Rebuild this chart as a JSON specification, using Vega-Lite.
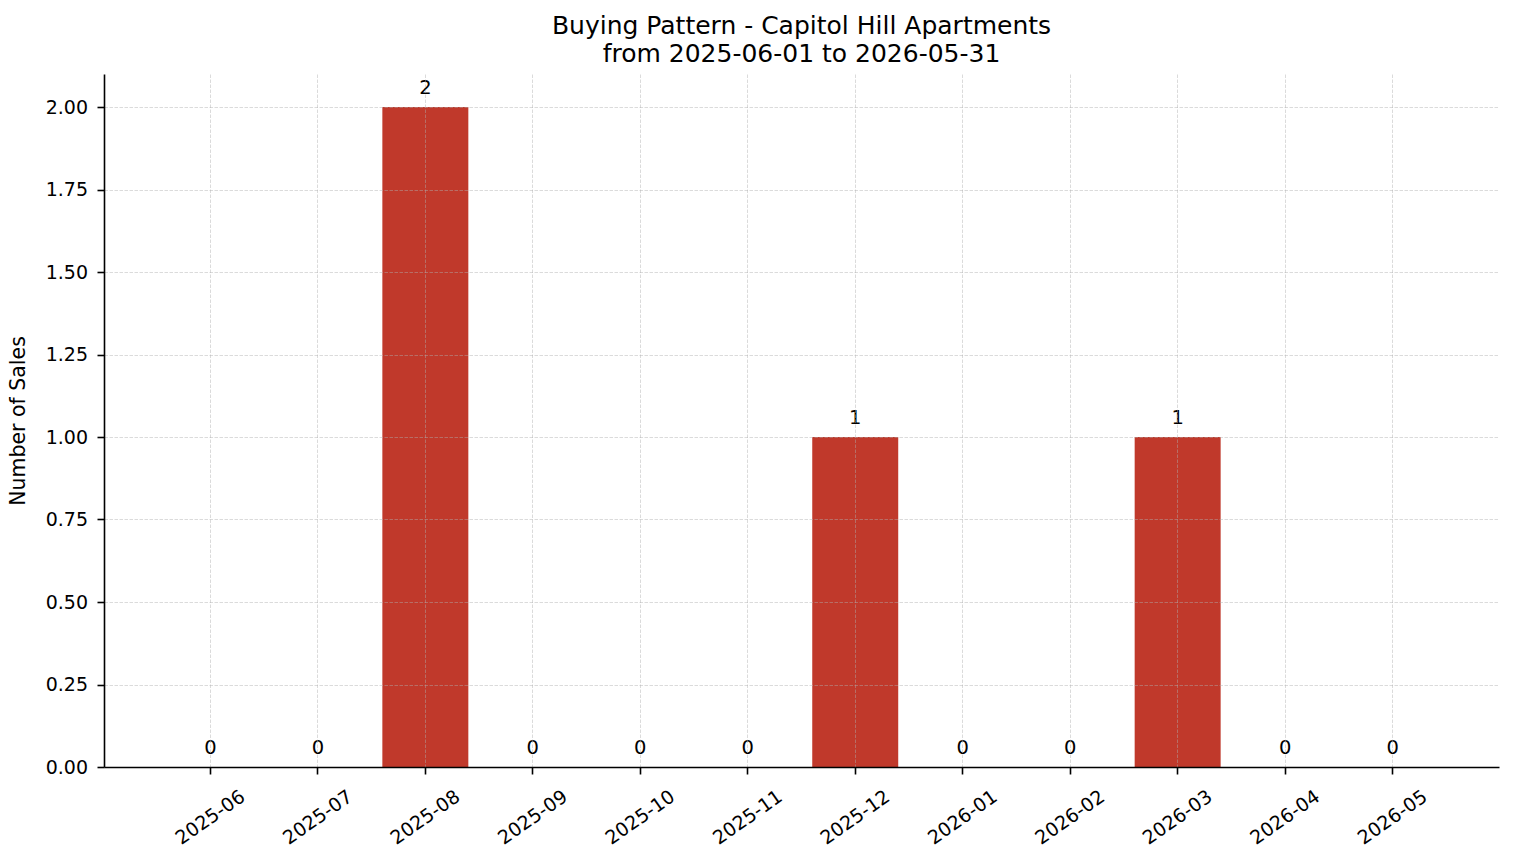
{
  "$schema": "https://vega.github.io/schema/vega-lite/v6.json",
  "width": 1395,
  "height": 693,
  "autosize": {"type": "none"},
  "padding": {"left": 104, "top": 74, "right": 15, "bottom": 96},
  "background": "white",
  "config": {"view": {"stroke": null}, "font": "DejaVu Sans"},
  "title": {
    "text": ["Buying Pattern - Capitol Hill Apartments", "from 2025-06-01 to 2026-05-31"],
    "fontSize": 25,
    "fontWeight": "normal",
    "font": "DejaVu Sans",
    "color": "black",
    "lineHeight": 28,
    "anchor": "middle",
    "baseline": "bottom",
    "offset": -18
  },
  "data": {
    "values": [
      {"month": "2025-06", "sales": 0},
      {"month": "2025-07", "sales": 0},
      {"month": "2025-08", "sales": 2},
      {"month": "2025-09", "sales": 0},
      {"month": "2025-10", "sales": 0},
      {"month": "2025-11", "sales": 0},
      {"month": "2025-12", "sales": 1},
      {"month": "2026-01", "sales": 0},
      {"month": "2026-02", "sales": 0},
      {"month": "2026-03", "sales": 1},
      {"month": "2026-04", "sales": 0},
      {"month": "2026-05", "sales": 0}
    ]
  },
  "encoding": {
    "x": {
      "field": "month",
      "type": "ordinal",
      "sort": null,
      "scale": {"paddingInner": 0.2, "paddingOuter": 0.59},
      "axis": {
        "title": null,
        "zindex": 1,
        "bandPosition": 0.5,
        "labelAngle": -35,
        "labelAlign": "center",
        "labelBaseline": "middle",
        "labelPadding": 43,
        "labelFontSize": 19,
        "labelFont": "DejaVu Sans",
        "labelColor": "black",
        "labelOverlap": false,
        "tickSize": 7,
        "tickWidth": 1.6,
        "tickColor": "black",
        "domainColor": "black",
        "domainWidth": 1.6,
        "grid": true,
        "gridColor": "#b0b0b0",
        "gridOpacity": 0.5,
        "gridDash": [3.5, 1.5],
        "gridWidth": 0.9
      }
    }
  },
  "layer": [
    {
      "mark": {"type": "bar", "color": "#c0392b"},
      "encoding": {
        "y": {
          "field": "sales",
          "type": "quantitative",
          "scale": {"domain": [0, 2.1], "nice": false, "zero": true},
          "axis": {
            "title": "Number of Sales",
            "titleFontSize": 20.5,
            "titleFontWeight": "normal",
            "titleFont": "DejaVu Sans",
            "titleColor": "black",
            "titlePadding": 17,
            "zindex": 1,
            "values": [0, 0.25, 0.5, 0.75, 1, 1.25, 1.5, 1.75, 2],
            "format": ".2f",
            "labelFontSize": 19,
            "labelFont": "DejaVu Sans",
            "labelColor": "black",
            "labelPadding": 9.5,
            "tickSize": 7,
            "tickWidth": 1.6,
            "tickColor": "black",
            "domainColor": "black",
            "domainWidth": 1.6,
            "grid": true,
            "gridColor": "#b0b0b0",
            "gridOpacity": 0.5,
            "gridDash": [3.5, 1.5],
            "gridWidth": 0.9
          }
        }
      }
    },
    {
      "mark": {"type": "text", "baseline": "alphabetic", "dy": -13, "fontSize": 19.5, "font": "DejaVu Sans", "color": "black"},
      "encoding": {
        "y": {"field": "sales", "type": "quantitative"},
        "text": {"field": "sales", "type": "quantitative", "format": "d"}
      }
    }
  ]
}
